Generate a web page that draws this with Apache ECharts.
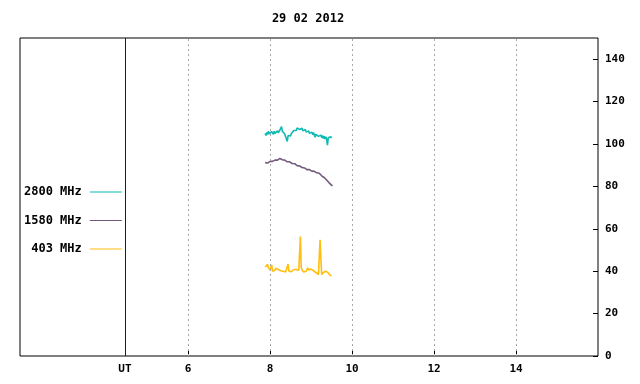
<!DOCTYPE html>
<html><head><meta charset="utf-8">
<script src="https://cdn.jsdelivr.net/npm/echarts@6/dist/echarts.min.js"></script>
<style>html,body{margin:0;padding:0;background:#fff}#c{width:640px;height:384px}</style>
</head><body><div id="c"></div>
<script>
const titleText = '29 02 2012';
const seriesNames = ['2800 MHz', '1580 MHz', '403 MHz'];
const seriesColors = ['#0fbab2', '#735a7d', '#ffbe10'];
const xTicks = [6, 8, 10, 12, 14];
const utHour = 4.46;
const tStart = 7.88;
const tStep = 0.02;

const flux2800 = [105,104,105.5,104.5,106,104.8,105.2,104,105.8,105,
104.6,106,105,105.6,104.8,106.2,105.2,105.8,106.6,106.4,
108.2,106,106.6,105.2,104.6,103.8,104.6,101.2,104,103.4,
104.6,103.8,105,105.6,105,106.4,106,107,106.4,107.6,
107,108,106.8,107.6,106.6,107.4,106.2,107,105.8,106.8,
105.6,106.4,105.4,106.2,105,105.8,104.6,105.6,104.4,105.4,
104.2,103.2,104.6,103.8,104.8,103.6,104.4,103.4,104.2,103,
104,102.6,103.6,102.4,103.4,102.2,99.5,103,102.4,102.4,
103.4,102.8];

const flux1580 = [91.2,90.8,91.5,91.0,91.6,91.3,91.8,91.5,92.0,91.8,
92.2,91.9,92.4,92.1,92.6,92.4,92.9,92.7,93.2,92.8,
93.0,92.6,92.8,92.2,92.4,91.9,92.1,91.6,91.8,91.4,
91.6,91.0,91.3,90.8,91.0,90.5,90.7,90.2,90.4,89.8,
90.0,89.5,89.7,89.2,89.4,88.9,89.0,88.5,88.7,88.2,
88.4,87.9,88.1,87.7,87.9,87.5,87.7,87.2,87.4,87.0,
87.1,86.7,86.8,86.4,86.5,86.1,86.2,85.8,85.6,85.0,
84.9,84.3,84.2,83.6,83.5,83.0,82.6,82.1,81.7,81.4,
80.9,80.6,80.2];

const flux403 = [42.0,42.4,42.8,43.2,41.6,41.4,40.6,40.2,43.0,40.0,
39.6,39.8,40.4,41.4,40.6,40.8,40.8,40.8,40.6,40.2,
40.4,39.8,40.0,39.4,39.4,39.6,39.4,40.0,43.4,40.0,
40.0,40.2,39.8,40.4,40.0,40.8,41.2,41.0,40.8,40.6,
40.6,40.4,40.8,56.4,42.0,40.6,39.8,39.6,39.8,39.6,
40.0,40.4,41.6,40.6,40.8,41.0,41.0,41.0,40.8,40.2,
40.0,39.8,39.4,39.0,38.8,38.4,38.0,54.8,45.8,38.4,
38.8,39.4,39.8,40.0,40.0,39.8,39.6,39.2,38.8,38.2,
37.8,37.8];

const seriesValues = [flux2800, flux1580, flux403];
const FONT = 'DejaVu Sans Mono';

function toPairs(vals){ return vals.map((v,i)=>[+(tStart + i*tStep).toFixed(3), v]); }

const chart = echarts.init(document.getElementById('c'), null, {renderer:'canvas'});
const series = [{
  name: 'grid', type: 'line', data: [], z: 1, silent: true,
  markLine: {
    silent: true, symbol: ['none','none'], label: {show:false}, animation: false,
    data: xTicks.map(t => ({xAxis: t, lineStyle: {color:'#a8a8a8', type:[2,3], width:1}}))
      .concat([{xAxis: utHour, lineStyle: {color:'#600000', type:'solid', width:1}}])
  }
}].concat(seriesNames.map((n,k)=>({
  name: n, type: 'line', z: 3, showSymbol: false, symbol: 'none',
  color: seriesColors[k],
  lineStyle: {color: seriesColors[k], width: 1.6},
  data: toPairs(seriesValues[k])
})));

chart.setOption({
  animation: false,
  backgroundColor: '#fff',
  title: {
    text: titleText, left: 308, top: 13, padding: 0, textAlign: 'center',
    textStyle: {fontFamily: FONT, fontSize: 12, fontWeight: 'bold', color: '#000'}
  },
  legend: {
    data: seriesNames, orient: 'vertical', left: 24, top: 185, padding: 0,
    align: 'right', icon: 'rect', itemWidth: 32, itemHeight: 1, itemGap: 14.5,
    formatter: n => n.padStart(8, '\u00a0'),
    textStyle: {fontFamily: FONT, fontSize: 12, fontWeight: 'bold', color: '#000', lineHeight: 14, padding: [0,3,0,0]}
  },
  grid: {left: 20, right: 42, top: 38, bottom: 28, show: true, borderColor: '#000', borderWidth: 1, backgroundColor: 'transparent'},
  xAxis: {
    type: 'value', min: 1.9, max: 16,
    axisLine: {show: false},
    splitLine: {show: false},
    axisTick: {show: true, inside: true, length: 5, customValues: xTicks, lineStyle: {color:'#000'}},
    axisLabel: {
      customValues: [utHour].concat(xTicks), margin: 8,
      fontFamily: FONT, fontSize: 11, fontWeight: 'bold', color: '#000',
      formatter: v => Math.abs(v - utHour) < 0.01 ? '{ut|UT}' : String(v),
      rich: {ut: {fontFamily: FONT, fontSize: 11, fontWeight: 'bold', color:'#000', padding: [0,0,6,0]}}
    }
  },
  yAxis: {
    type: 'value', position: 'right', min: 0, max: 150, interval: 20,
    axisLine: {show: false},
    splitLine: {show: false},
    axisTick: {show: true, inside: true, length: 5, lineStyle: {color:'#000'}},
    axisLabel: {showMaxLabel: false, margin: 7, fontFamily: FONT, fontSize: 11, fontWeight: 'bold', color: '#000'}
  },
  series: series
});
</script>
</body></html>
